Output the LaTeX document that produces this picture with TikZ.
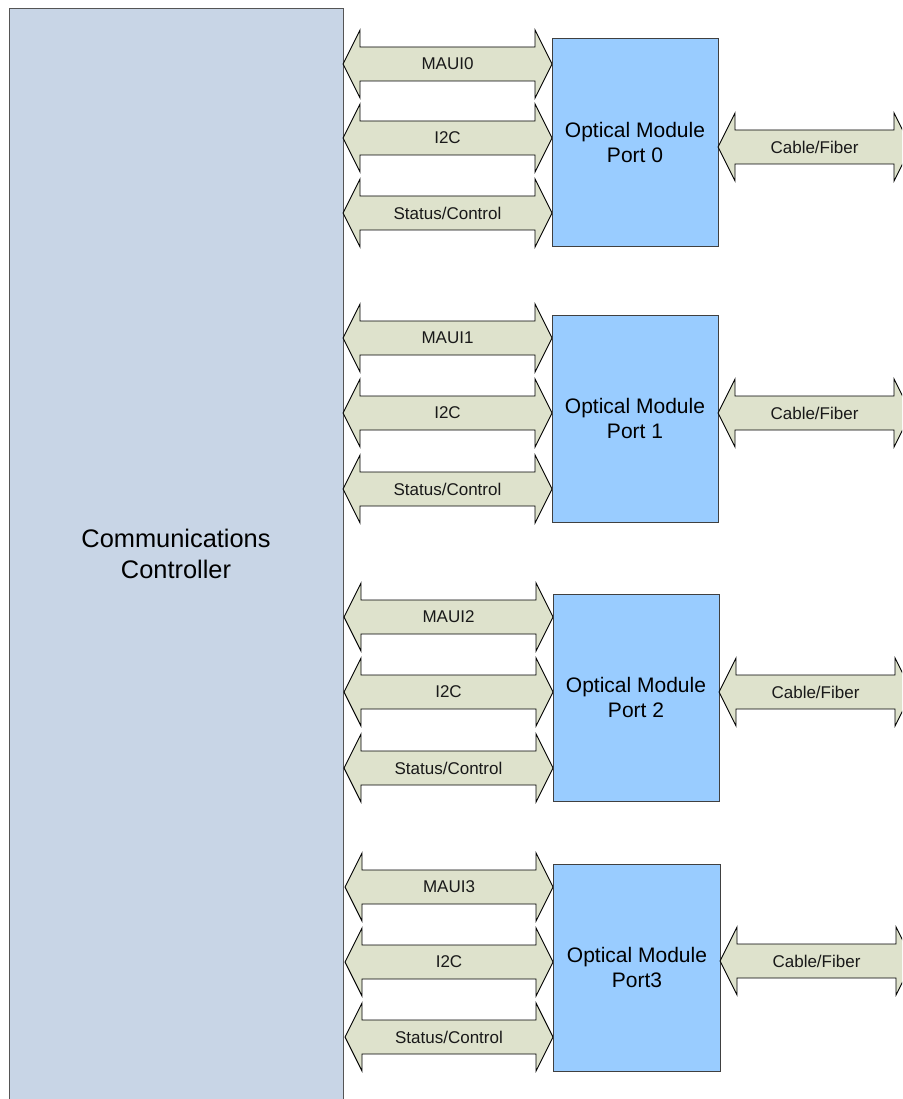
\documentclass[tikz,border=0pt]{standalone}
\usepackage{fontspec}
\setmainfont{Liberation Sans}
\definecolor{ctrlfill}{HTML}{C8D5E6}
\definecolor{ctrlline}{HTML}{555555}
\definecolor{modfill}{HTML}{99CCFF}
\definecolor{arrfill}{HTML}{DEE2CC}
\tikzset{
  barrow/.style={draw=black, fill=arrfill, line width=0.9pt, line join=miter},
  lbl/.style={inner sep=0pt, font=\fontsize{17}{20}\selectfont, text=black!90},
  module/.style={draw=black!75, fill=modfill, line width=0.9pt, align=center,
    font=\fontsize{21}{25}\selectfont, inner sep=0pt},
  ctrl/.style={draw=ctrlline, fill=ctrlfill, line width=0.9pt, align=center,
    font=\fontsize{25.4}{31}\selectfont, inner sep=0pt}
}
% name, x1, x2, y, label
\newcommand\darr[5]{%
  \draw[barrow] (#2,#4) -- (#2+17,#4-34) -- (#2+17,#4-17) -- (#3-17,#4-17)
    -- (#3-17,#4-34) -- (#3,#4) -- (#3-17,#4+34) -- (#3-17,#4+17)
    -- (#2+17,#4+17) -- (#2+17,#4+34) -- cycle;
  \node[lbl] (#1) at ({(#2+#3)/2},#4) {#5};}
\begin{document}
\begin{tikzpicture}[x=1pt,y=-1pt]
\useasboundingbox (0,0) rectangle (902,1099);
\clip (0,0) rectangle (902,1099);
\node[ctrl, minimum width=334, minimum height=1107] (ctrl) at (176,561.5) {};
\node[ctrl, draw=none, fill=none] (ctrltext) at (176,553.5) {Communications\\Controller};
% group 0
\darr{maui0}{343}{552}{64}{MAUI0}
\darr{iic0}{343}{552}{138}{I2C}
\darr{stat0}{343}{552}{213}{Status/Control}
\node[module, minimum width=166, minimum height=208] (m0) at (635,142) {Optical Module\\Port 0};
\darr{cab0}{718}{911}{147}{Cable/Fiber}
% group 1
\darr{maui1}{343}{552}{338}{MAUI1}
\darr{iic1}{343}{552}{413}{I2C}
\darr{stat1}{343}{552}{489}{Status/Control}
\node[module, minimum width=166, minimum height=207] (m1) at (635,418.5) {Optical Module\\Port 1};
\darr{cab1}{718}{911}{413}{Cable/Fiber}
% group 2
\darr{maui2}{344}{553}{617}{MAUI2}
\darr{iic2}{344}{553}{692}{I2C}
\darr{stat2}{344}{553}{768}{Status/Control}
\node[module, minimum width=166, minimum height=207] (m2) at (636,697.5) {Optical Module\\Port 2};
\darr{cab2}{719}{912}{692}{Cable/Fiber}
% group 3
\darr{maui3}{345}{553}{887}{MAUI3}
\darr{iic3}{345}{553}{962}{I2C}
\darr{stat3}{345}{553}{1037}{Status/Control}
\node[module, minimum width=167, minimum height=207] (m3) at (637,967.5) {Optical Module\\Port3};
\darr{cab3}{720}{913}{961}{Cable/Fiber}
\end{tikzpicture}
\end{document}
